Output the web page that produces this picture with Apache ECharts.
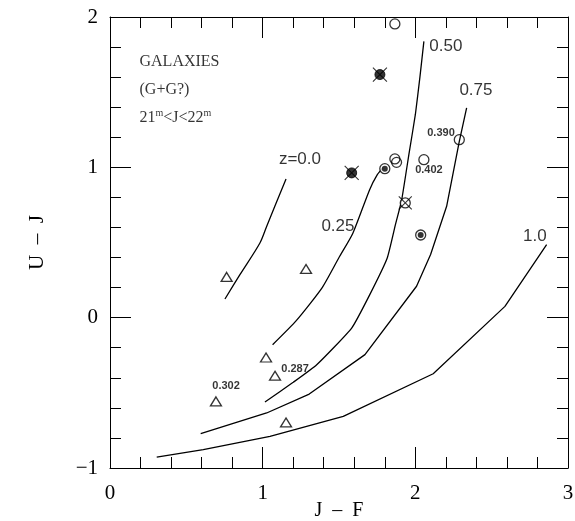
<!DOCTYPE html>
<html><head><meta charset="utf-8">
<script src="https://cdn.jsdelivr.net/npm/echarts@6/dist/echarts.min.js"></script>
<style>html,body{margin:0;background:#fff}#c{width:575px;height:521px}</style>
</head><body><div id="c"></div>
<script>
// Axis ticks / labels
const xTickLabels = ['0', '1', '2', '3'];
const yTickLabels = ['\u22121', '0', '1', '2'];

// Redshift tracks (J-F, U-J)
const trackZ000 = [[0.753,0.124],[0.851,0.286],[0.982,0.497],[1.026,0.607],[1.153,0.923]];
const trackZ025 = [[1.065,-0.18],[1.22,-0.02],[1.39,0.20],[1.50,0.40],[1.59,0.56],[1.70,0.85],[1.75,0.95],[1.79,1.0]];
const trackZ050 = [[1.015,-0.561],[1.20,-0.43],[1.354,-0.313],[1.583,-0.069],[1.70,0.15],[1.816,0.397],[1.87,0.62],[1.91,0.78],[1.96,1.10],[2.00,1.35],[2.03,1.60],[2.056,1.838]];
const trackZ075 = [[0.594,-0.772],[1.026,-0.634],[1.305,-0.508],[1.67,-0.246],[2.008,0.209],[2.10,0.42],[2.205,0.741],[2.288,1.173],[2.336,1.395]];
const trackZ100 = [[0.306,-0.927],[0.611,-0.878],[1.048,-0.790],[1.528,-0.657],[2.117,-0.373],[2.587,0.075],[2.860,0.486]];

// Galaxies
const triangles = [[0.764,0.271],[1.284,0.324],[1.022,-0.265],[1.081,-0.386],[0.694,-0.557],[1.153,-0.697]];
const openCircles = [[1.866,1.954],[2.288,1.184],[1.866,1.056],[1.877,1.033],[2.056,1.051]];
const dotCircles = [[1.80,0.991],[2.035,0.550]];
const crossFilled = [[1.768,1.617],[1.583,0.963]];
const crossOpen = [[1.934,0.763]];

// Annotations: [x, y, text]
const trackLabels = [[1.244,1.051,'z=0.0'],[1.493,0.605,'0.25'],[2.20,1.803,'0.50'],[2.397,1.510,'0.75'],[2.783,0.539,'1.0']];
const redshiftLabels = [[2.168,1.231,'0.390'],[2.089,0.985,'0.402'],[1.212,-0.339,'0.287'],[0.760,-0.452,'0.302']];
const titleLines = [[0.19,1.703,'GALAXIES'],[0.19,1.517,'(G+G?)'],[0.19,1.331,'{a|21}{s|m}{a|<J<22}{s|m}']];

const serif = '"Liberation Serif","DejaVu Serif",serif';
const sans = '"Liberation Sans","DejaVu Sans",sans-serif';

function xAx(pos, show) {
  return {
    type: 'value', min: 0, max: 3, interval: 1, position: pos,
    name: show ? 'J  \u2013  F' : '', nameLocation: 'middle', nameGap: 33, nameMoveOverlap: false,
    nameTextStyle: {fontFamily: serif, fontSize: 20, color: '#000'},
    axisLine: {show: true, onZero: false, lineStyle: {color: '#000', width: 1}},
    axisTick: {show: true, inside: true, length: 21, lineStyle: {color: '#000', width: 1}},
    minorTick: {show: true, splitNumber: 5, length: 11, lineStyle: {color: '#000', width: 1}},
    splitLine: {show: false}, minorSplitLine: {show: false},
    axisLabel: {show: show, margin: 15, fontFamily: serif, fontSize: 21, color: '#000',
      formatter: v => xTickLabels[Math.round(v)]}
  };
}
function yAx(pos, show) {
  return {
    type: 'value', min: -1, max: 2, interval: 1, position: pos,
    name: show ? 'U  \u2013  J' : '', nameLocation: 'middle', nameGap: 62, nameRotate: 90, nameMoveOverlap: false,
    nameTextStyle: {fontFamily: serif, fontSize: 21, color: '#000'},
    axisLine: {show: true, onZero: false, lineStyle: {color: '#000', width: 1}},
    axisTick: {show: true, inside: true, length: 21, lineStyle: {color: '#000', width: 1}},
    minorTick: {show: true, splitNumber: 5, length: 11, lineStyle: {color: '#000', width: 1}},
    splitLine: {show: false}, minorSplitLine: {show: false},
    axisLabel: {show: show, margin: 12, fontFamily: serif, fontSize: 21, color: '#000',
      formatter: v => yTickLabels[Math.round(v) + 1]}
  };
}

function track(data, smooth) {
  return {type: 'line', data: data, showSymbol: false, symbol: 'none', smooth: smooth,
    lineStyle: {color: '#000', width: 1.3}, silent: true, z: 2};
}
function textSeries(data, font, size, weight) {
  return {type: 'scatter', data: data, symbolSize: 1, itemStyle: {color: 'rgba(0,0,0,0)'},
    silent: true, z: 5,
    label: {show: true, position: 'inside', formatter: p => p.value[2],
      fontFamily: font, fontSize: size, fontWeight: weight, color: '#000'}};
}
const X = 'path://M0,0L10,10M10,0L0,10';

const chart = echarts.init(document.getElementById('c'), null, {renderer: 'canvas'});
chart.setOption({
  animation: false,
  backgroundColor: '#fff',
  grid: {left: 110, top: 17, width: 458, height: 451, containLabel: false, outerBoundsMode: 'none'},
  xAxis: [xAx('bottom', true), xAx('top', false)],
  yAxis: [yAx('left', true), yAx('right', false)],
  series: [
    track(trackZ000, 0.3), track(trackZ025, 0.2), track(trackZ050, 0.15), track(trackZ075, false), track(trackZ100, false),
    {type: 'scatter', data: triangles, symbol: 'triangle', symbolSize: [11, 9],
      itemStyle: {color: '#fff', borderColor: '#000', borderWidth: 1.3}, z: 4},
    {type: 'scatter', data: openCircles, symbol: 'circle', symbolSize: 10,
      itemStyle: {color: 'rgba(255,255,255,0)', borderColor: '#000', borderWidth: 1.3}, z: 4},
    {type: 'scatter', data: dotCircles, symbol: 'circle', symbolSize: 10,
      itemStyle: {color: '#fff', borderColor: '#000', borderWidth: 1.3}, z: 4},
    {type: 'scatter', data: dotCircles, symbol: 'circle', symbolSize: 6,
      itemStyle: {color: '#000'}, z: 5},
    {type: 'scatter', data: crossFilled, symbol: 'circle', symbolSize: 10,
      itemStyle: {color: '#000', borderColor: '#000', borderWidth: 1}, z: 4},
    {type: 'scatter', data: crossFilled, symbol: X, symbolSize: 14,
      itemStyle: {color: 'none', borderColor: '#000', borderWidth: 1.1}, z: 5},
    {type: 'scatter', data: crossOpen, symbol: 'circle', symbolSize: 10,
      itemStyle: {color: '#fff', borderColor: '#000', borderWidth: 1.3}, z: 4},
    {type: 'scatter', data: crossOpen, symbol: X, symbolSize: 13,
      itemStyle: {color: 'none', borderColor: '#000', borderWidth: 1.1}, z: 5},
    textSeries(trackLabels, sans, 17, 'normal'),
    textSeries(redshiftLabels, sans, 11, 'bold'),
    {type: 'scatter', data: titleLines, symbolSize: 1, itemStyle: {color: 'rgba(0,0,0,0)'},
      silent: true, z: 5,
      label: {show: true, position: 'right', distance: 0, formatter: p => p.value[2],
        fontFamily: serif, fontSize: 16, color: '#000',
        rich: {a: {fontFamily: serif, fontSize: 16, color: '#000'},
               s: {fontFamily: serif, fontSize: 10, color: '#000', verticalAlign: 'top', padding: [0, 0, 9, 0]}}}}
  ]
});
</script></body></html>
